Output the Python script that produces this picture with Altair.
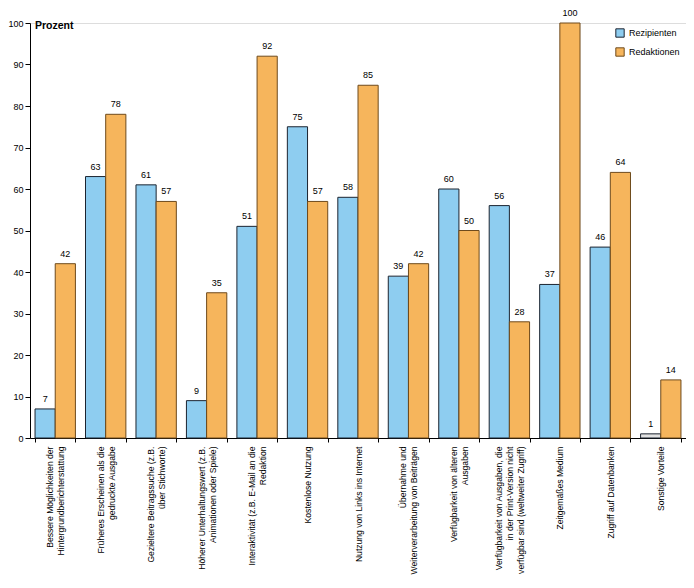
import altair as alt
import pandas as pd

categories = [
    "Bessere Möglichkeiten der\nHintergrundberichterstattung",
    "Früheres Erscheinen als die\ngedruckte Ausgabe",
    "Gezieltere Beitragssuche (z.B.\nüber Stichworte)",
    "Höherer Unterhaltungswert (z.B.\nAnimationen oder Spiele)",
    "Interaktivität (z.B. E-Mail an die\nRedaktion",
    "Kostenlose Nutzung",
    "Nutzung von Links ins Internet",
    "Übernahme und\nWeiterverarbeitung von Beiträgen",
    "Verfügbarkeit von älteren\nAusgaben",
    "Verfügbarkeit von Ausgaben, die\nin der Print-Version nicht\nverfügbar sind (weltweiter Zugriff)",
    "Zeitgemäßes Medium",
    "Zugriff auf Datenbanken",
    "Sonstige Vorteile",
]
series_names = ["Rezipienten", "Redaktionen"]
rezipienten = [7, 63, 61, 9, 51, 75, 58, 39, 60, 56, 37, 46, 1]
redaktionen = [42, 78, 57, 35, 92, 57, 85, 42, 50, 28, 100, 64, 14]

rows = []
for i, c in enumerate(categories):
    rows.append({"cat": c, "series": "Rezipienten", "value": rezipienten[i], "idx": i})
    rows.append({"cat": c, "series": "Redaktionen", "value": redaktionen[i], "idx": i})
df = pd.DataFrame(rows)

FONT = "Liberation Sans"
LH = 11

x_enc = alt.X(
    "cat:N",
    sort=categories,
    title=None,
    scale=alt.Scale(paddingInner=0.2, paddingOuter=0.1),
    axis=alt.Axis(
        labelAngle=-90,
        labelAlign="right",
        labelBaseline="middle",
        labelExpr="split(datum.label, '\\n')",
        labelLineHeight=LH,
        labelFontSize=8.6,
        labelFont=FONT,
        labelColor="black",
        labelPadding=4,
        labelOffset={
            "condition": [
                {"test": "length(split(datum.value, '\\n')) == 3", "value": -LH},
                {"test": "length(split(datum.value, '\\n')) == 2", "value": -LH / 2},
            ],
            "value": 0,
        },
        tickBand="extent",
        tickColor="black",
        tickSize=4,
        domainColor="black",
        labelLimit=300,
        grid=False,
    ),
)
y_enc = alt.Y(
    "value:Q",
    title=None,
    scale=alt.Scale(domain=[0, 100], nice=False),
    axis=alt.Axis(
        values=list(range(0, 101, 10)),
        grid=False,
        tickColor="black",
        tickSize=5,
        domainColor="black",
        labelFontSize=9,
        labelFont=FONT,
        labelColor="black",
        labelPadding=2,
    ),
)
xoff = alt.XOffset("series:N", sort=series_names, scale=alt.Scale(paddingInner=0))

gray_cond = (alt.datum.series == "Rezipienten") & (alt.datum.idx == 12)

bars = alt.Chart(df).mark_bar(strokeWidth=1, strokeOpacity=1).encode(
    x=x_enc,
    y=y_enc,
    xOffset=xoff,
    fill=alt.condition(
        gray_cond,
        alt.value("#e1e1e1"),
        alt.Fill(
            "series:N",
            sort=series_names,
            scale=alt.Scale(domain=series_names, range=["#8ecdf0", "#f6b55c"]),
            legend=alt.Legend(
                title=None,
                orient="none",
                legendX=585,
                legendY=5,
                symbolType="square",
                symbolSize=70,
                symbolStrokeColor="#202020",
                symbolStrokeWidth=1,
                labelFontSize=9,
                labelFont=FONT,
                labelColor="black",
                rowPadding=5,
            ),
        ),
    ),
    stroke=alt.Stroke(
        "series:N",
        sort=series_names,
        scale=alt.Scale(domain=series_names, range=["#1c2430", "#6e4a1c"]),
        legend=None,
    ),
)

labels = alt.Chart(df).mark_text(
    dy=-5, fontSize=9, font=FONT, color="black", baseline="bottom"
).encode(
    x=x_enc,
    y=y_enc,
    xOffset=xoff,
    text="value:Q",
)

title = alt.Chart(pd.DataFrame({"t": ["Prozent"]})).mark_text(
    fontSize=10.5, font=FONT, fontWeight="bold", align="left", baseline="middle", color="black"
).encode(x=alt.value(5), y=alt.value(3), text="t:N")

chart = (
    alt.layer(bars, labels, title)
    .properties(
        width=656,
        height=415,
        padding={"left": 22, "top": 15, "right": 0, "bottom": 142},
        autosize="none",
    )
    .configure_view(stroke=None, strokeWidth=0)
    .configure_axis(grid=False)
    .configure(background="white")
)

chart.save("out.html", embed_options={"renderer": "svg", "actions": False})
